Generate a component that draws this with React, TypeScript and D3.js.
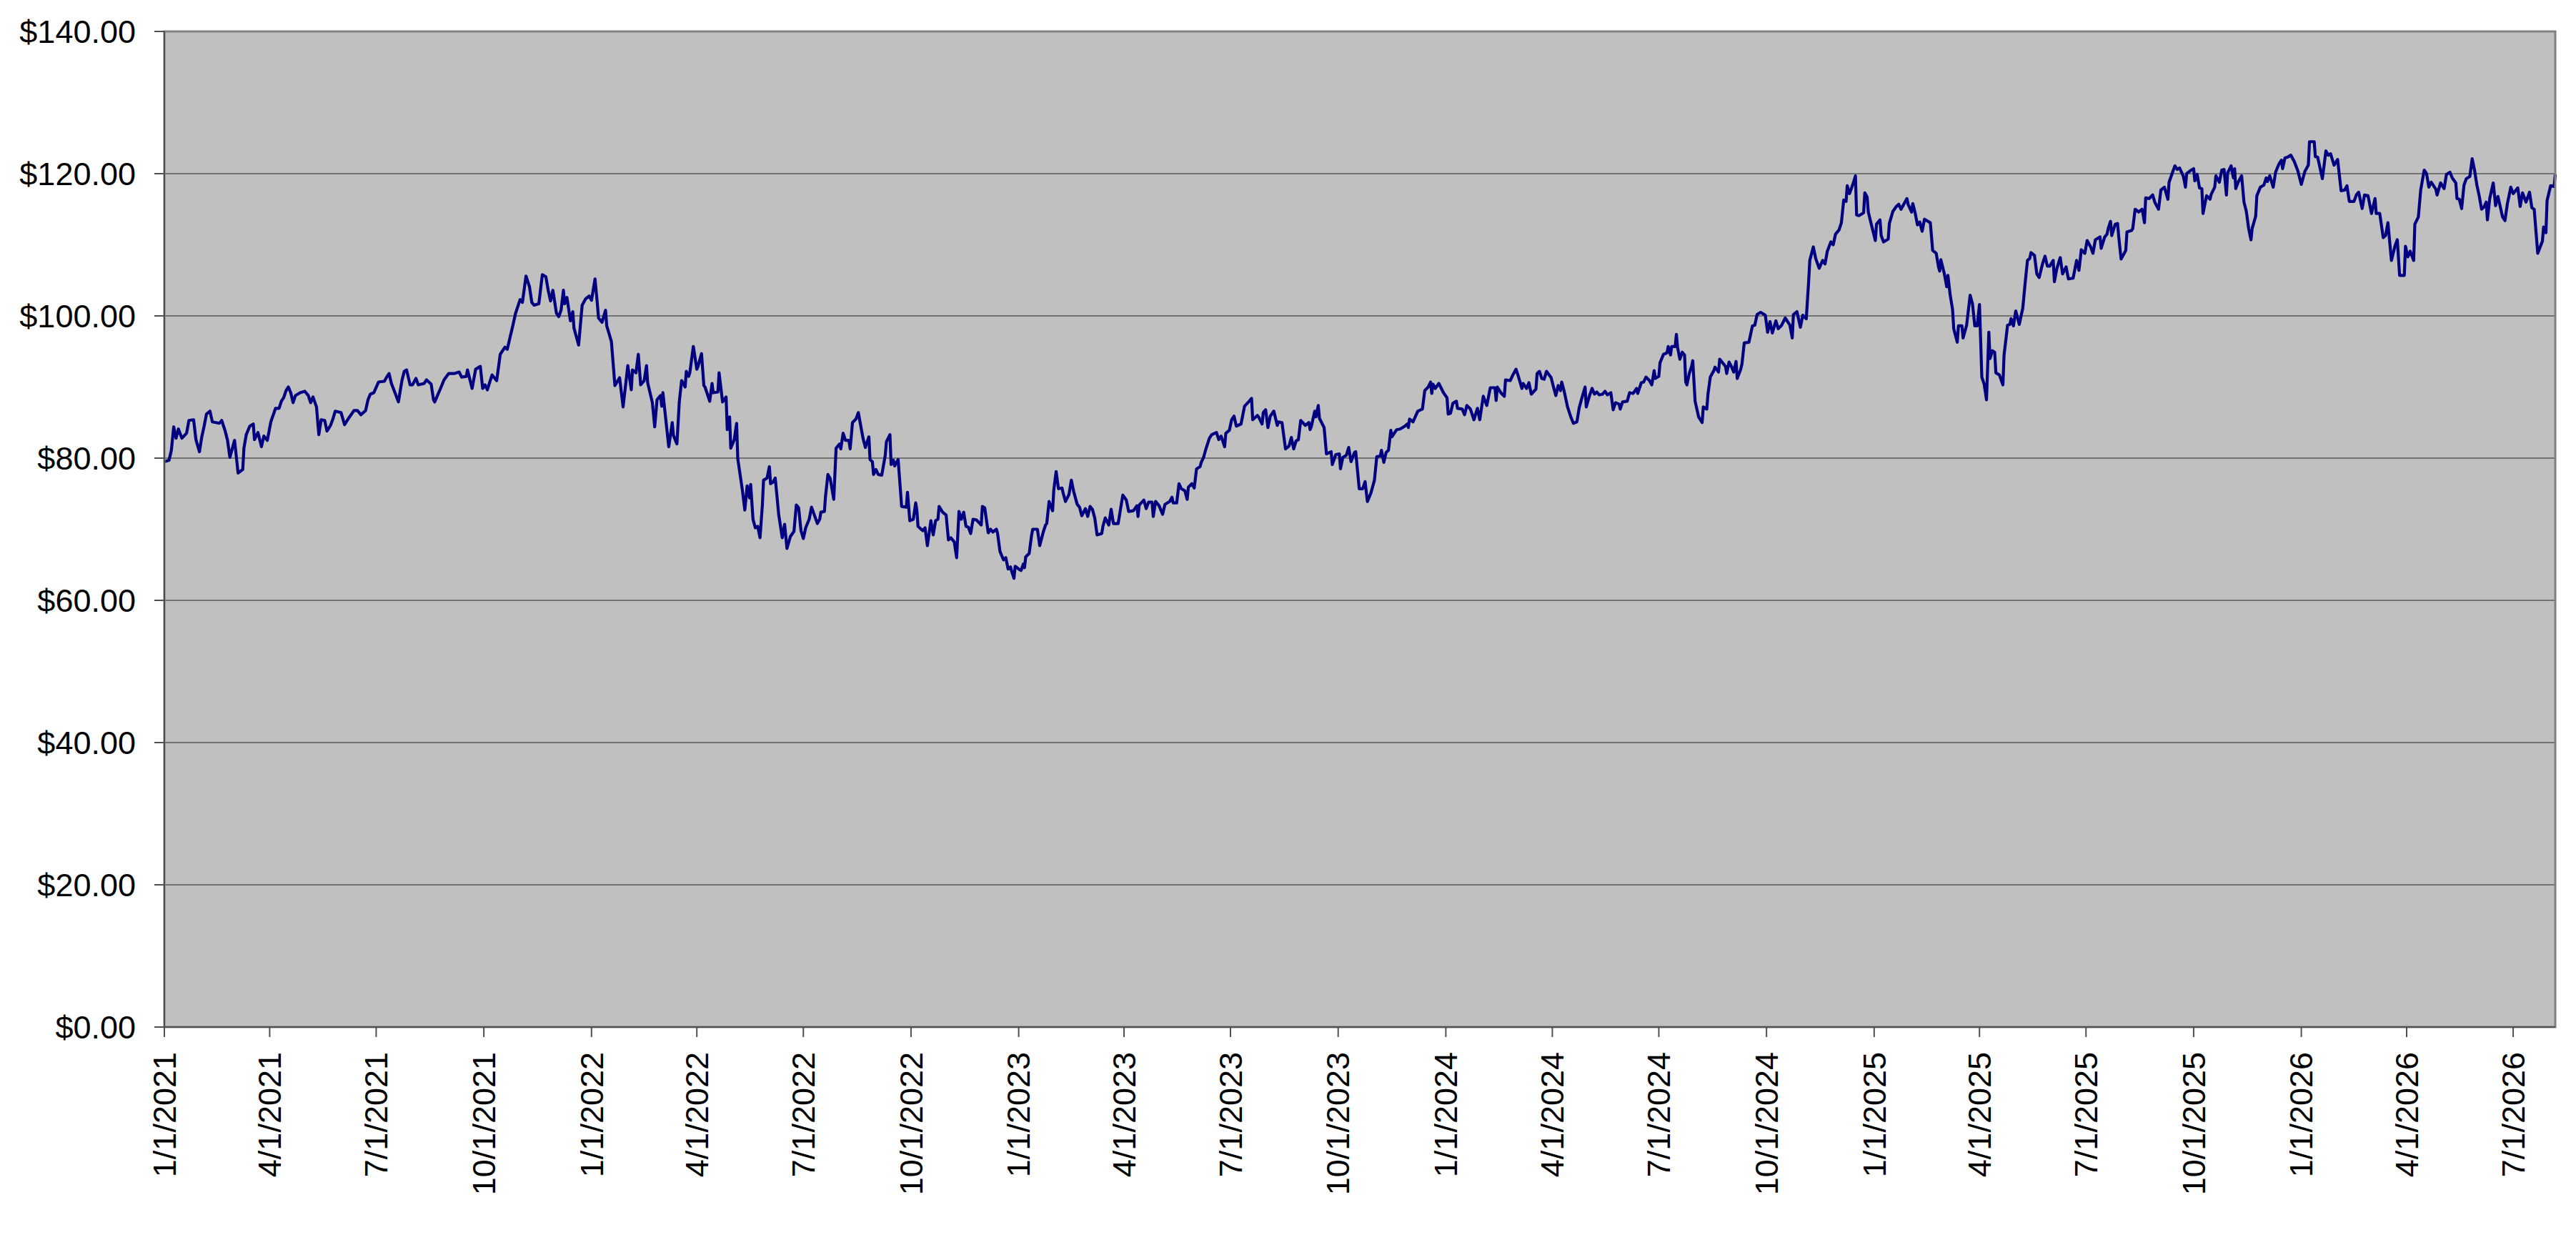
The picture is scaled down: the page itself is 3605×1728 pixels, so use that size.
import React, { useMemo } from 'react';
import * as d3 from 'd3';

// [days since 1/1/2021, closing price]
const priceSeries: [number, number][] = [
  [0, 79.5], [4, 79.7], [6, 81.1], [8, 84.4], [10, 82.8], [12, 84.1], [15, 82.8], [19, 83.5], [21, 85.3], [25, 85.4],
  [27, 82.6], [30, 80.9], [32, 83.0], [34, 84.5], [36, 86.2], [39, 86.6], [41, 85.1], [47, 84.9], [49, 85.3], [52, 83.8],
  [54, 82.5], [56, 80.1], [60, 82.5], [63, 77.9], [67, 78.4], [68, 81.4], [70, 83.3], [73, 84.5], [76, 84.8], [77, 82.6],
  [80, 83.6], [83, 81.6], [85, 83.1], [88, 82.5], [91, 85.1], [95, 87.0], [98, 87.0], [100, 88.0], [102, 88.5], [104, 89.5],
  [106, 90.0], [108, 89.2], [110, 87.8], [112, 88.8], [116, 89.2], [120, 89.4], [123, 88.8], [125, 87.8], [127, 88.6], [130, 87.2],
  [132, 83.3], [134, 85.4], [137, 85.3], [139, 83.8], [142, 84.6], [144, 85.5], [146, 86.6], [151, 86.4], [154, 84.7], [157, 85.5],
  [160, 86.2], [162, 86.7], [165, 86.7], [168, 86.1], [172, 86.7], [174, 88.2], [176, 89.0], [179, 89.2], [183, 90.7], [188, 90.8],
  [190, 91.4], [192, 91.9], [194, 90.5], [198, 88.8], [200, 87.9], [203, 90.9], [205, 92.2], [207, 92.4], [210, 90.3], [212, 90.3],
  [215, 91.2], [217, 90.3], [222, 90.5], [224, 91.0], [228, 90.4], [230, 88.2], [231, 87.9], [236, 89.8], [239, 91.0], [243, 91.9],
  [248, 91.9], [252, 92.1], [254, 91.4], [258, 91.5], [259, 92.4], [263, 89.8], [266, 92.5], [270, 92.9], [272, 89.8], [274, 90.3],
  [276, 89.6], [280, 91.7], [284, 90.9], [287, 94.6], [291, 95.6], [293, 95.3], [295, 96.7], [298, 98.8], [300, 100.3], [304, 102.3],
  [306, 101.9], [309, 105.6], [312, 104.1], [314, 101.9], [316, 101.5], [320, 101.7], [323, 105.8], [326, 105.5], [328, 103.6], [330, 102.1],
  [332, 103.6], [335, 100.4], [337, 99.9], [339, 100.8], [341, 103.6], [342, 101.7], [344, 102.6], [347, 99.3], [349, 100.6], [350, 98.3],
  [354, 95.9], [357, 101.5], [360, 102.4], [363, 102.8], [365, 102.2], [368, 105.2], [370, 101.7], [371, 99.7], [374, 99.1], [377, 100.8],
  [378, 98.6], [382, 96.4], [385, 90.2], [389, 91.3], [392, 87.2], [396, 93.0], [399, 89.6], [400, 92.4], [403, 92.0], [405, 94.6],
  [407, 90.3], [410, 90.9], [412, 93.0], [413, 90.6], [417, 87.8], [419, 84.4], [421, 88.2], [424, 88.8], [425, 87.3], [426, 89.2],
  [431, 81.6], [434, 85.0], [435, 83.2], [438, 82.0], [440, 87.9], [442, 90.9], [445, 90.0], [446, 92.2], [448, 91.5], [449, 92.0],
  [452, 95.7], [455, 92.5], [456, 92.9], [459, 94.7], [461, 90.2], [462, 90.0], [466, 88.0], [468, 90.5], [469, 89.2], [473, 89.3],
  [474, 92.0], [477, 87.9], [480, 88.6], [481, 84.0], [483, 85.8], [484, 81.4], [487, 82.6], [489, 84.9], [490, 79.9], [494, 75.4],
  [496, 72.7], [498, 76.1], [500, 74.4], [501, 76.3], [503, 71.4], [505, 70.2], [507, 70.4], [509, 68.8], [511, 73.4], [512, 76.9],
  [515, 77.2], [517, 78.8], [518, 76.4], [520, 76.6], [522, 77.2], [525, 72.0], [528, 68.8], [530, 70.7], [532, 67.3], [535, 69.0],
  [538, 69.7], [540, 73.4], [542, 73.0], [544, 69.8], [546, 68.7], [548, 70.2], [551, 71.4], [553, 73.1], [558, 70.8], [560, 71.4],
  [561, 72.4], [564, 72.5], [565, 74.7], [567, 77.7], [569, 77.1], [572, 74.2], [574, 81.4], [577, 82.0], [578, 81.3], [580, 83.5],
  [582, 82.5], [585, 82.5], [586, 81.3], [587, 83.1], [588, 85.0], [591, 85.5], [593, 86.4], [594, 85.5], [597, 82.8], [599, 81.5],
  [602, 83.0], [603, 79.8], [605, 79.5], [606, 77.7], [608, 78.4], [610, 77.7], [613, 77.6], [616, 80.4], [617, 82.3], [620, 83.3],
  [621, 79.1], [623, 79.7], [624, 78.9], [627, 79.8], [630, 73.2], [634, 73.1], [635, 75.2], [637, 71.2], [640, 71.4], [642, 73.7],
  [643, 72.7], [644, 70.4], [648, 69.8], [650, 70.2], [652, 67.7], [655, 71.2], [657, 69.2], [659, 71.2], [661, 71.4], [662, 73.2],
  [665, 72.4], [668, 72.0], [670, 68.5], [672, 68.8], [675, 68.2], [677, 66.0], [679, 72.5], [681, 71.4], [683, 72.4], [685, 70.4],
  [687, 70.3], [689, 69.4], [691, 71.4], [694, 71.3], [698, 70.6], [699, 73.2], [701, 73.0], [704, 69.5], [706, 70.0], [708, 69.6],
  [711, 70.0], [712, 69.4], [714, 66.9], [717, 65.7], [719, 66.0], [721, 64.4], [723, 64.7], [724, 64.1], [726, 63.1], [727, 64.8],
  [730, 64.4], [732, 64.2], [734, 65.1], [735, 64.6], [736, 66.1], [739, 66.6], [741, 69.1], [742, 70.0], [746, 70.0], [748, 67.7],
  [751, 69.6], [753, 70.6], [754, 70.8], [756, 73.9], [759, 72.6], [760, 75.5], [762, 78.1], [764, 75.7], [767, 75.8], [768, 75.1],
  [770, 73.9], [773, 74.9], [775, 76.9], [777, 75.3], [780, 73.5], [782, 73.1], [784, 71.9], [787, 72.9], [789, 71.8], [791, 73.2],
  [793, 72.8], [795, 71.6], [797, 69.2], [801, 69.4], [802, 70.4], [804, 71.6], [807, 70.6], [809, 72.8], [811, 70.8], [815, 70.8],
  [817, 72.8], [819, 74.8], [822, 74.1], [824, 72.5], [828, 72.6], [831, 73.3], [832, 71.8], [833, 73.4], [837, 74.1], [839, 72.9],
  [841, 73.8], [844, 73.8], [845, 71.8], [847, 73.9], [850, 73.3], [853, 72.1], [855, 73.5], [859, 73.9], [861, 74.5], [862, 73.7],
  [865, 73.7], [867, 76.4], [869, 75.7], [872, 75.4], [874, 74.2], [875, 75.9], [878, 76.4], [880, 75.8], [882, 78.5], [885, 78.8],
  [886, 79.4], [888, 80.1], [890, 81.3], [893, 82.8], [895, 83.3], [899, 83.6], [901, 82.6], [903, 83.1], [906, 81.6], [907, 83.5],
  [910, 83.9], [912, 85.4], [914, 85.9], [916, 84.5], [920, 84.8], [923, 87.3], [927, 88.0], [929, 88.4], [930, 85.4], [934, 86.0],
  [935, 85.8], [938, 84.8], [939, 86.4], [941, 86.8], [943, 84.3], [945, 85.9], [948, 86.6], [951, 84.6], [952, 85.1], [955, 85.0],
  [958, 81.3], [961, 81.7], [963, 82.9], [965, 81.3], [967, 82.4], [969, 82.6], [971, 85.3], [975, 84.6], [978, 85.0], [979, 84.0],
  [980, 84.4], [983, 86.6], [984, 85.8], [986, 87.4], [987, 85.6], [991, 84.3], [993, 80.6], [997, 80.9], [998, 79.1], [1001, 80.5],
  [1004, 80.6], [1005, 78.5], [1007, 80.1], [1010, 80.4], [1012, 81.5], [1014, 79.5], [1017, 80.8], [1018, 80.9], [1021, 75.7], [1024, 75.7],
  [1026, 76.7], [1028, 73.9], [1031, 75.1], [1034, 76.9], [1036, 80.2], [1039, 80.3], [1040, 81.1], [1042, 79.4], [1044, 80.8], [1046, 81.1],
  [1048, 83.9], [1049, 83.0], [1053, 84.0], [1056, 84.1], [1060, 84.5], [1062, 84.8], [1063, 84.3], [1064, 85.5], [1067, 85.1], [1071, 86.6],
  [1075, 86.9], [1077, 89.5], [1080, 90.0], [1082, 90.7], [1083, 89.1], [1084, 90.4], [1086, 89.8], [1089, 90.5], [1093, 89.2], [1096, 88.5],
  [1097, 86.2], [1099, 86.3], [1101, 87.7], [1104, 88.0], [1105, 87.0], [1109, 86.9], [1111, 86.1], [1113, 87.4], [1116, 86.9], [1119, 85.4],
  [1122, 87.0], [1124, 85.4], [1127, 88.7], [1130, 87.4], [1133, 89.9], [1137, 89.9], [1138, 88.1], [1139, 90.0], [1142, 89.2], [1145, 88.7],
  [1146, 91.0], [1150, 90.9], [1152, 91.6], [1155, 92.5], [1157, 91.5], [1160, 89.8], [1161, 90.5], [1164, 89.8], [1166, 90.6], [1168, 89.0],
  [1172, 89.7], [1173, 91.9], [1175, 92.2], [1177, 91.2], [1179, 91.1], [1181, 92.2], [1185, 91.3], [1187, 90.0], [1189, 88.8], [1191, 90.2],
  [1193, 89.5], [1194, 90.7], [1196, 89.5], [1199, 87.2], [1202, 85.7], [1204, 84.9], [1207, 85.1], [1209, 87.1], [1211, 88.3], [1214, 90.0],
  [1215, 87.2], [1218, 88.9], [1220, 89.8], [1222, 89.0], [1224, 89.3], [1226, 88.9], [1229, 89.0], [1231, 89.4], [1233, 88.9], [1236, 89.2],
  [1238, 86.8], [1240, 87.8], [1243, 87.6], [1244, 86.9], [1246, 87.9], [1250, 88.0], [1252, 89.2], [1255, 89.1], [1258, 89.8], [1259, 89.1],
  [1262, 90.6], [1264, 90.7], [1266, 91.4], [1269, 90.9], [1271, 90.3], [1273, 92.3], [1274, 91.2], [1277, 91.5], [1278, 93.4], [1281, 94.6],
  [1284, 94.8], [1285, 95.7], [1287, 94.5], [1288, 95.7], [1291, 95.7], [1292, 97.4], [1293, 95.6], [1295, 93.9], [1297, 94.9], [1299, 94.5],
  [1300, 90.7], [1301, 90.3], [1303, 91.9], [1305, 92.9], [1306, 93.7], [1308, 88.0], [1311, 85.8], [1314, 85.0], [1315, 87.2], [1318, 86.9],
  [1319, 89.0], [1321, 91.4], [1324, 92.3], [1325, 92.8], [1328, 92.1], [1329, 93.9], [1331, 93.5], [1334, 92.9], [1335, 91.9], [1337, 93.5],
  [1339, 92.9], [1341, 92.1], [1343, 93.6], [1344, 91.2], [1347, 92.5], [1348, 93.2], [1350, 96.2], [1354, 96.3], [1357, 98.6], [1359, 98.7],
  [1361, 100.2], [1364, 100.5], [1368, 100.1], [1370, 97.7], [1372, 99.2], [1374, 97.6], [1377, 99.3], [1379, 98.2], [1382, 98.7], [1385, 99.7],
  [1389, 98.7], [1391, 96.9], [1392, 100.2], [1395, 100.6], [1398, 98.4], [1400, 100.1], [1403, 99.6], [1405, 104.8], [1406, 107.8], [1409, 109.7],
  [1411, 108.1], [1414, 106.7], [1417, 107.8], [1419, 107.3], [1421, 109.1], [1424, 110.4], [1426, 110.0], [1428, 111.5], [1431, 112.1], [1433, 113.1],
  [1435, 116.3], [1437, 116.1], [1438, 118.3], [1440, 117.2], [1443, 118.6], [1445, 119.7], [1446, 114.2], [1448, 114.1], [1452, 114.5], [1453, 117.3],
  [1455, 116.7], [1456, 114.6], [1459, 112.6], [1462, 110.6], [1463, 112.9], [1466, 113.5], [1467, 111.3], [1469, 110.4], [1473, 110.8], [1474, 113.0],
  [1477, 114.7], [1480, 115.4], [1482, 115.7], [1484, 115.0], [1486, 115.6], [1489, 116.5], [1490, 115.7], [1493, 114.6], [1494, 115.8], [1496, 114.5],
  [1498, 112.8], [1500, 113.2], [1502, 111.9], [1504, 113.6], [1509, 113.1], [1511, 109.2], [1514, 108.8], [1516, 106.9], [1517, 106.3], [1518, 107.9],
  [1521, 105.9], [1523, 104.1], [1524, 105.7], [1526, 102.9], [1528, 100.9], [1529, 98.2], [1532, 96.3], [1533, 98.6], [1536, 98.6], [1537, 96.9],
  [1540, 98.7], [1543, 102.9], [1545, 101.7], [1547, 98.6], [1549, 98.6], [1551, 101.6], [1553, 91.4], [1555, 90.4], [1557, 88.2], [1559, 97.7],
  [1560, 94.0], [1562, 95.1], [1564, 94.9], [1565, 92.0], [1568, 91.7], [1571, 90.3], [1572, 94.5], [1575, 98.7], [1577, 98.8], [1578, 99.6],
  [1580, 98.6], [1582, 100.7], [1585, 98.8], [1588, 101.1], [1590, 104.6], [1592, 107.8], [1594, 108.1], [1595, 108.9], [1598, 108.5], [1600, 105.9],
  [1602, 105.4], [1605, 107.4], [1607, 108.4], [1609, 107.0], [1611, 107.0], [1614, 107.8], [1615, 104.8], [1617, 106.6], [1620, 108.2], [1622, 105.9],
  [1625, 106.9], [1627, 105.2], [1631, 105.3], [1634, 107.8], [1636, 106.4], [1638, 109.3], [1641, 108.8], [1643, 110.6], [1646, 109.7], [1648, 108.8],
  [1650, 110.7], [1654, 111.1], [1655, 109.5], [1658, 111.1], [1660, 111.5], [1661, 112.3], [1663, 113.3], [1664, 111.3], [1667, 112.9], [1669, 113.0],
  [1670, 111.1], [1672, 108.0], [1676, 109.2], [1677, 111.8], [1681, 112.0], [1682, 112.3], [1684, 115.0], [1687, 114.6], [1690, 115.0], [1692, 113.1],
  [1693, 116.6], [1696, 116.5], [1699, 117.0], [1701, 115.9], [1704, 115.0], [1706, 117.7], [1709, 118.1], [1712, 116.4], [1713, 118.8], [1716, 120.2],
  [1718, 121.1], [1720, 120.6], [1722, 120.8], [1725, 119.7], [1726, 119.0], [1727, 118.1], [1728, 120.0], [1731, 120.4], [1734, 120.7], [1735, 119.0],
  [1737, 119.9], [1739, 118.0], [1741, 117.9], [1742, 114.4], [1745, 116.9], [1748, 116.4], [1749, 117.1], [1752, 118.1], [1753, 119.7], [1756, 118.8],
  [1758, 120.5], [1760, 120.6], [1762, 117.0], [1763, 120.1], [1766, 121.1], [1768, 119.4], [1769, 120.7], [1770, 117.9], [1772, 118.8], [1775, 119.7],
  [1777, 116.0], [1779, 114.7], [1781, 112.3], [1783, 110.7], [1784, 112.3], [1787, 114.0], [1788, 116.9], [1791, 118.1], [1794, 118.4], [1796, 119.4],
  [1797, 118.9], [1799, 119.7], [1802, 118.1], [1804, 120.2], [1807, 121.4], [1809, 121.9], [1810, 120.7], [1812, 122.2], [1814, 122.3], [1817, 122.6],
  [1820, 121.7], [1823, 120.4], [1826, 118.5], [1829, 120.3], [1832, 121.2], [1833, 124.5], [1837, 124.5], [1838, 122.4], [1840, 122.3], [1844, 119.3],
  [1847, 123.2], [1849, 122.6], [1851, 122.8], [1854, 121.2], [1857, 122.0], [1860, 117.6], [1863, 117.7], [1865, 118.3], [1867, 116.1], [1871, 116.1],
  [1873, 117.0], [1875, 117.4], [1878, 115.1], [1880, 117.0], [1883, 116.9], [1886, 114.4], [1889, 116.5], [1890, 114.4], [1893, 114.4], [1896, 111.0],
  [1898, 111.3], [1900, 113.1], [1903, 107.8], [1906, 109.8], [1908, 110.7], [1910, 105.7], [1914, 105.7], [1915, 109.8], [1917, 108.3], [1919, 109.1],
  [1922, 107.8], [1923, 112.9], [1926, 113.9], [1928, 117.7], [1931, 120.5], [1933, 120.0], [1935, 118.1], [1937, 118.8], [1941, 117.8], [1942, 117.0],
  [1945, 118.7], [1948, 117.9], [1950, 119.9], [1953, 120.2], [1955, 119.4], [1958, 118.7], [1959, 116.5], [1961, 116.4], [1963, 115.1], [1965, 118.4],
  [1967, 119.3], [1970, 119.6], [1972, 122.1], [1974, 120.5], [1976, 118.4], [1978, 116.9], [1980, 115.0], [1982, 115.3], [1984, 116.0], [1985, 113.5],
  [1987, 116.5], [1990, 118.7], [1992, 115.5], [1994, 116.8], [1998, 113.9], [2000, 113.4], [2002, 115.7], [2005, 118.1], [2007, 117.2], [2011, 118.0],
  [2013, 115.4], [2015, 117.3], [2018, 116.0], [2021, 117.4], [2023, 115.2], [2025, 115.0], [2028, 108.8], [2032, 110.5], [2033, 112.5], [2035, 111.7],
  [2036, 116.2], [2039, 118.3], [2042, 118.2], [2043, 119.9],
];

const startDate = new Date(Date.UTC(2021, 0, 1));
const lastDay = 2043;
const priceTicks = [0, 20, 40, 60, 80, 100, 120, 140];
const tickMonthStep = 3;

const width = 3605;
const height = 1728;
const margin = { top: 44, right: 29, bottom: 291, left: 230 };
const font = '"Liberation Sans", Arial, sans-serif';

const App: React.FC = () => {
  const endDate = d3.utcDay.offset(startDate, lastDay);

  const xScale = useMemo(
    () => d3.scaleUtc().domain([startDate, endDate]).range([margin.left, width - margin.right]),
    []
  );
  const yScale = useMemo(
    () => d3.scaleLinear().domain([0, 140]).range([height - margin.bottom, margin.top]),
    []
  );

  const points = priceSeries.map(([d, v]) => ({ date: d3.utcDay.offset(startDate, d), value: v }));
  const line = d3.line<{ date: Date; value: number }>()
    .x(d => xScale(d.date))
    .y(d => yScale(d.value));

  const dateTicks = d3.utcMonth.every(tickMonthStep)!.range(startDate, endDate);
  const fmtDate = d3.utcFormat('%-m/%-d/%Y');
  const fmtPrice = d3.format('$.2f');

  const x0 = margin.left;
  const x1 = width - margin.right;
  const y0 = height - margin.bottom;
  const y1 = margin.top;

  return (
    <svg width={width} height={height} style={{ position: 'absolute', left: 0, top: 0, background: '#ffffff' }}>
      <rect x={x0} y={y1} width={x1 - x0} height={y0 - y1} fill="#c0c0c0" />

      {priceTicks.filter(t => t > 0 && t < 140).map(t => (
        <line key={t} x1={x0} x2={x1} y1={yScale(t)} y2={yScale(t)} stroke="#585858" strokeWidth="1.6" />
      ))}

      <path d={line(points) || ''} fill="none" stroke="#000080" strokeWidth="4.2" strokeLinejoin="round" />

      <rect x={x0} y={y1} width={x1 - x0} height={y0 - y1} fill="none" stroke="#808080" strokeWidth="3" />
      <line x1={x0} x2={x0} y1={y1} y2={y0} stroke="#404040" strokeWidth="1.6" />
      <line x1={x0} x2={x1} y1={y0} y2={y0} stroke="#404040" strokeWidth="1.6" />

      {priceTicks.map(t => (
        <g key={t} transform={`translate(0, ${yScale(t)})`}>
          <line x1={x0 - 14} x2={x0} stroke="#505050" strokeWidth="2" />
          <text x={x0 - 40} dy="0.35em" textAnchor="end" fontFamily={font} fontSize="45" fill="#000">
            {fmtPrice(t)}
          </text>
        </g>
      ))}

      {dateTicks.map(d => (
        <g key={d.getTime()} transform={`translate(${xScale(d)}, ${y0})`}>
          <line y2="14" stroke="#505050" strokeWidth="2" />
          <text transform="translate(0, 35) rotate(-90)" dy="0.35em" textAnchor="end" fontFamily={font} fontSize="45" fill="#000">
            {fmtDate(d)}
          </text>
        </g>
      ))}
    </svg>
  );
};

export default App;
